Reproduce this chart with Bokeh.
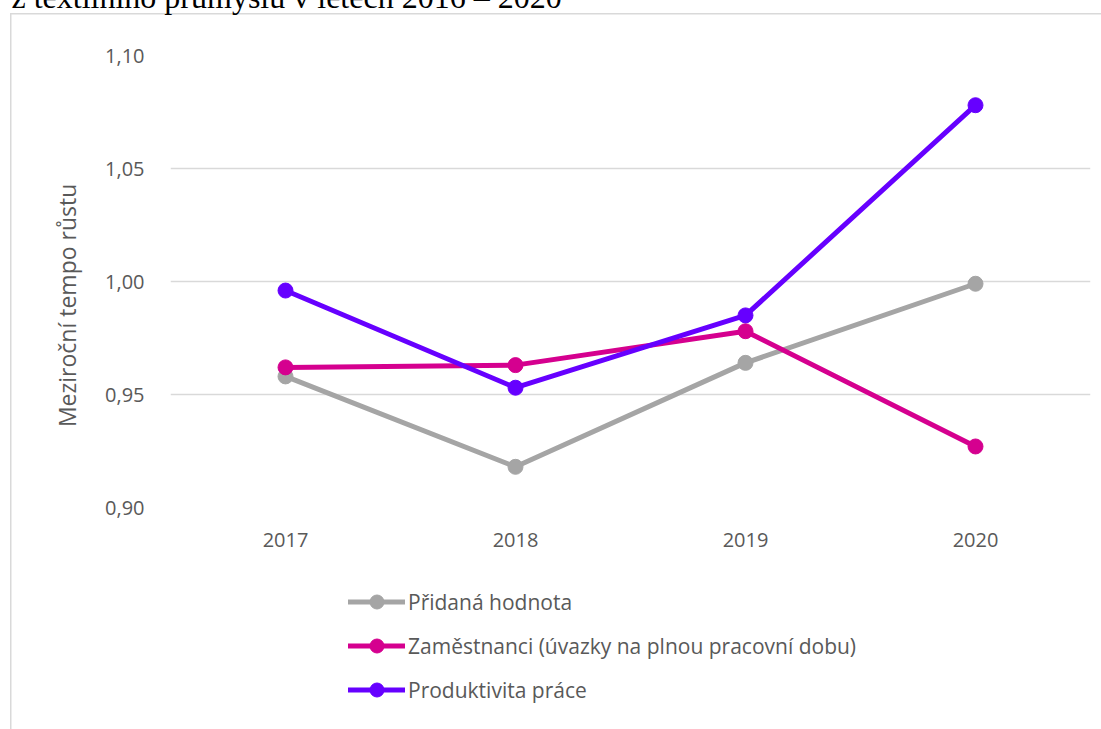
from bokeh.plotting import figure
from bokeh.layouts import column
from bokeh.models import (ColumnDataSource, FactorRange, Range1d, Legend, LegendItem,
                          CustomJSTickFormatter, FixedTicker)
from bokeh.embed import file_html
from bokeh.resources import INLINE

years = ["2017", "2018", "2019", "2020"]
pridana_hodnota = [0.958, 0.918, 0.964, 0.999]
zamestnanci = [0.962, 0.963, 0.978, 0.927]
produktivita = [0.996, 0.953, 0.985, 1.078]
y_ticks = [0.90, 0.95, 1.00, 1.05, 1.10]
series_names = ["Přidaná hodnota",
                "Zaměstnanci (úvazky na plnou pracovní dobu)",
                "Produktivita práce"]
colors = ["#A5A5A5", "#D5008F", "#6600FF"]
title_text = "z textilního průmyslu v letech 2016 – 2020"
y_title = "Meziroční tempo růstu"

W = 1101
K = 67            # how far the top of the drawing sits above the page
TOP = 55 + K
HM = TOP + 452 + 58
HL = 729 + K - HM
FONT = "Open Sans"
TXT = "#595959"
BORDER = "#D9D9D9"

p = figure(width=W, height=HM, output_backend="svg", toolbar_location=None,
           x_range=FactorRange(*years, range_padding=0),
           y_range=Range1d(0.90, 1.10),
           min_border_left=170, min_border_right=11, min_border_top=TOP,
           min_border_bottom=58)
p.outline_line_color = None
p.background_fill_color = "white"
p.border_fill_color = None

p.title.text = title_text
p.title.text_font = "Liberation Serif"
p.title.text_font_size = "32px"
p.title.text_font_style = "normal"
p.title.text_color = "black"
p.title.align = "left"
p.title.offset = -159
p.title.standoff = 81

# axes
p.yaxis.ticker = FixedTicker(ticks=y_ticks)
p.yaxis.formatter = CustomJSTickFormatter(code="return tick.toFixed(2).replace('.', ',');")
for ax in (p.xaxis[0], p.yaxis[0]):
    ax.axis_line_color = None
    ax.major_tick_line_color = None
    ax.minor_tick_line_color = None
    ax.major_label_text_font = FONT
    ax.major_label_text_font_size = "20px"
    ax.major_label_text_color = TXT
p.yaxis.major_label_standoff = 20
p.xaxis.major_label_standoff = 19
p.yaxis.axis_label = y_title + "\u00a0" * 8
p.yaxis.axis_label_text_font = FONT
p.yaxis.axis_label_text_font_size = "23px"
p.yaxis.axis_label_text_font_style = "normal"
p.yaxis.axis_label_text_color = TXT
p.yaxis.axis_label_standoff = 19

p.xgrid.grid_line_color = None
p.ygrid.grid_line_color = BORDER
p.ygrid.grid_line_width = 1.5

sources = []
for vals, c in zip([pridana_hodnota, zamestnanci, produktivita], colors):
    src = ColumnDataSource(dict(x=years, y=vals))
    sources.append(src)
    p.line("x", "y", source=src, line_color=c, line_width=5, line_join="round")
    p.scatter("x", "y", source=src, size=15, fill_color=c, line_color=c)

# legend panel under the chart (its own frame, so nothing is clipped);
# its range lies away from the data, so only the legend is seen
pl = figure(width=W, height=HL, output_backend="svg", toolbar_location=None,
            x_range=FactorRange(*years), y_range=Range1d(10, 11),
            x_axis_type=None, y_axis_type=None, min_border=0)
pl.outline_line_color = None
pl.background_fill_color = None
pl.border_fill_color = None
pl.xgrid.visible = False
pl.ygrid.visible = False
items = []
for name, c, src in zip(series_names, colors, sources):
    lr = pl.line("x", "y", source=src, line_color=c, line_width=5, line_cap="round")
    sr = pl.scatter("x", "y", source=src, size=15, fill_color=c, line_color=c)
    items.append(LegendItem(label=name, renderers=[lr, sr]))
legend = Legend(items=items, location=(178, 22), orientation="vertical",
                glyph_width=57, glyph_height=35, spacing=9, label_standoff=3,
                padding=0, margin=0, border_line_color=None,
                background_fill_alpha=0,
                label_text_font=FONT, label_text_font_size="21px",
                label_text_color=TXT)
pl.add_layout(legend, "center")

layout = column(p, pl, spacing=0)
layout.styles = {
    "transform": f"translate(0px, -{K}px)",
    "margin-bottom": f"-{K}px",
    "background": (f"linear-gradient({BORDER},{BORDER}) 10px {13 + K}px / 1.5px 100% no-repeat, "
                   f"linear-gradient({BORDER},{BORDER}) 10px {13 + K}px / 100% 1.5px no-repeat, white"),
}

open("out.html", "w").write(file_html(layout, INLINE))
